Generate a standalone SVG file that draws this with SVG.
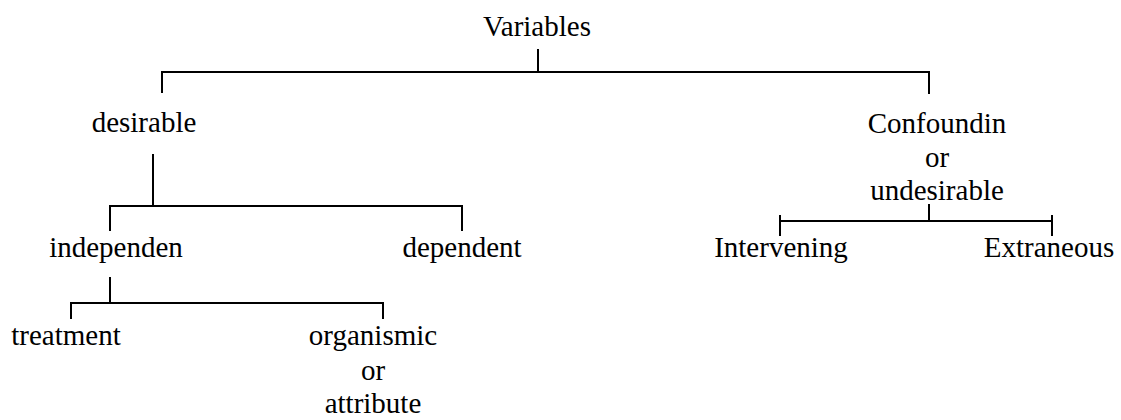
<svg xmlns="http://www.w3.org/2000/svg" width="1121" height="420" viewBox="0 0 1121 420">
  <style>
    .lbl { font-family: "Liberation Serif", "Times New Roman", serif; font-size: 29px; fill: #000; text-anchor: middle; }
    .tree { fill: none; stroke: #000; stroke-width: 2; stroke-linecap: square; }
  </style>
  <rect width="1121" height="420" fill="#fff"/>

  <!-- connectors: tree brackets -->
  <g id="connectors" class="tree">
    <!-- Variables -> desirable / confounding -->
    <path d="M538 50 V72 M162 72 H929 M162 72 V92 M929 72 V93"/>
    <!-- desirable -> independent / dependent -->
    <path d="M153 155 V206 M110 206 H462 M110 206 V230 M462 206 V230"/>
    <!-- independent -> treatment / organismic -->
    <path d="M110 278 V303 M71 303 H383 M71 303 V318 M383 303 V318"/>
    <!-- confounding -> intervening / extraneous -->
    <path d="M929 205 V221 M780 221 H1052 M780 216 V235 M1052 216 V235"/>
  </g>

  <g id="n-variables"><text class="lbl" x="537" y="36">Variables</text></g>
  <g id="n-desirable"><text class="lbl" x="144" y="132">desirable</text></g>
  <g id="n-confounding">
    <text class="lbl" x="937" y="133">Confoundin</text>
    <text class="lbl" x="937" y="167">or</text>
    <text class="lbl" x="937" y="200">undesirable</text>
  </g>
  <g id="n-independent"><text class="lbl" x="116" y="257">independen</text></g>
  <g id="n-dependent"><text class="lbl" x="462" y="257">dependent</text></g>
  <g id="n-intervening"><text class="lbl" x="781" y="257">Intervening</text></g>
  <g id="n-extraneous"><text class="lbl" x="1049" y="257">Extraneous</text></g>
  <g id="n-treatment"><text class="lbl" x="66" y="345">treatment</text></g>
  <g id="n-organismic">
    <text class="lbl" x="373" y="345">organismic</text>
    <text class="lbl" x="373" y="380">or</text>
    <text class="lbl" x="373" y="413">attribute</text>
  </g>
</svg>
